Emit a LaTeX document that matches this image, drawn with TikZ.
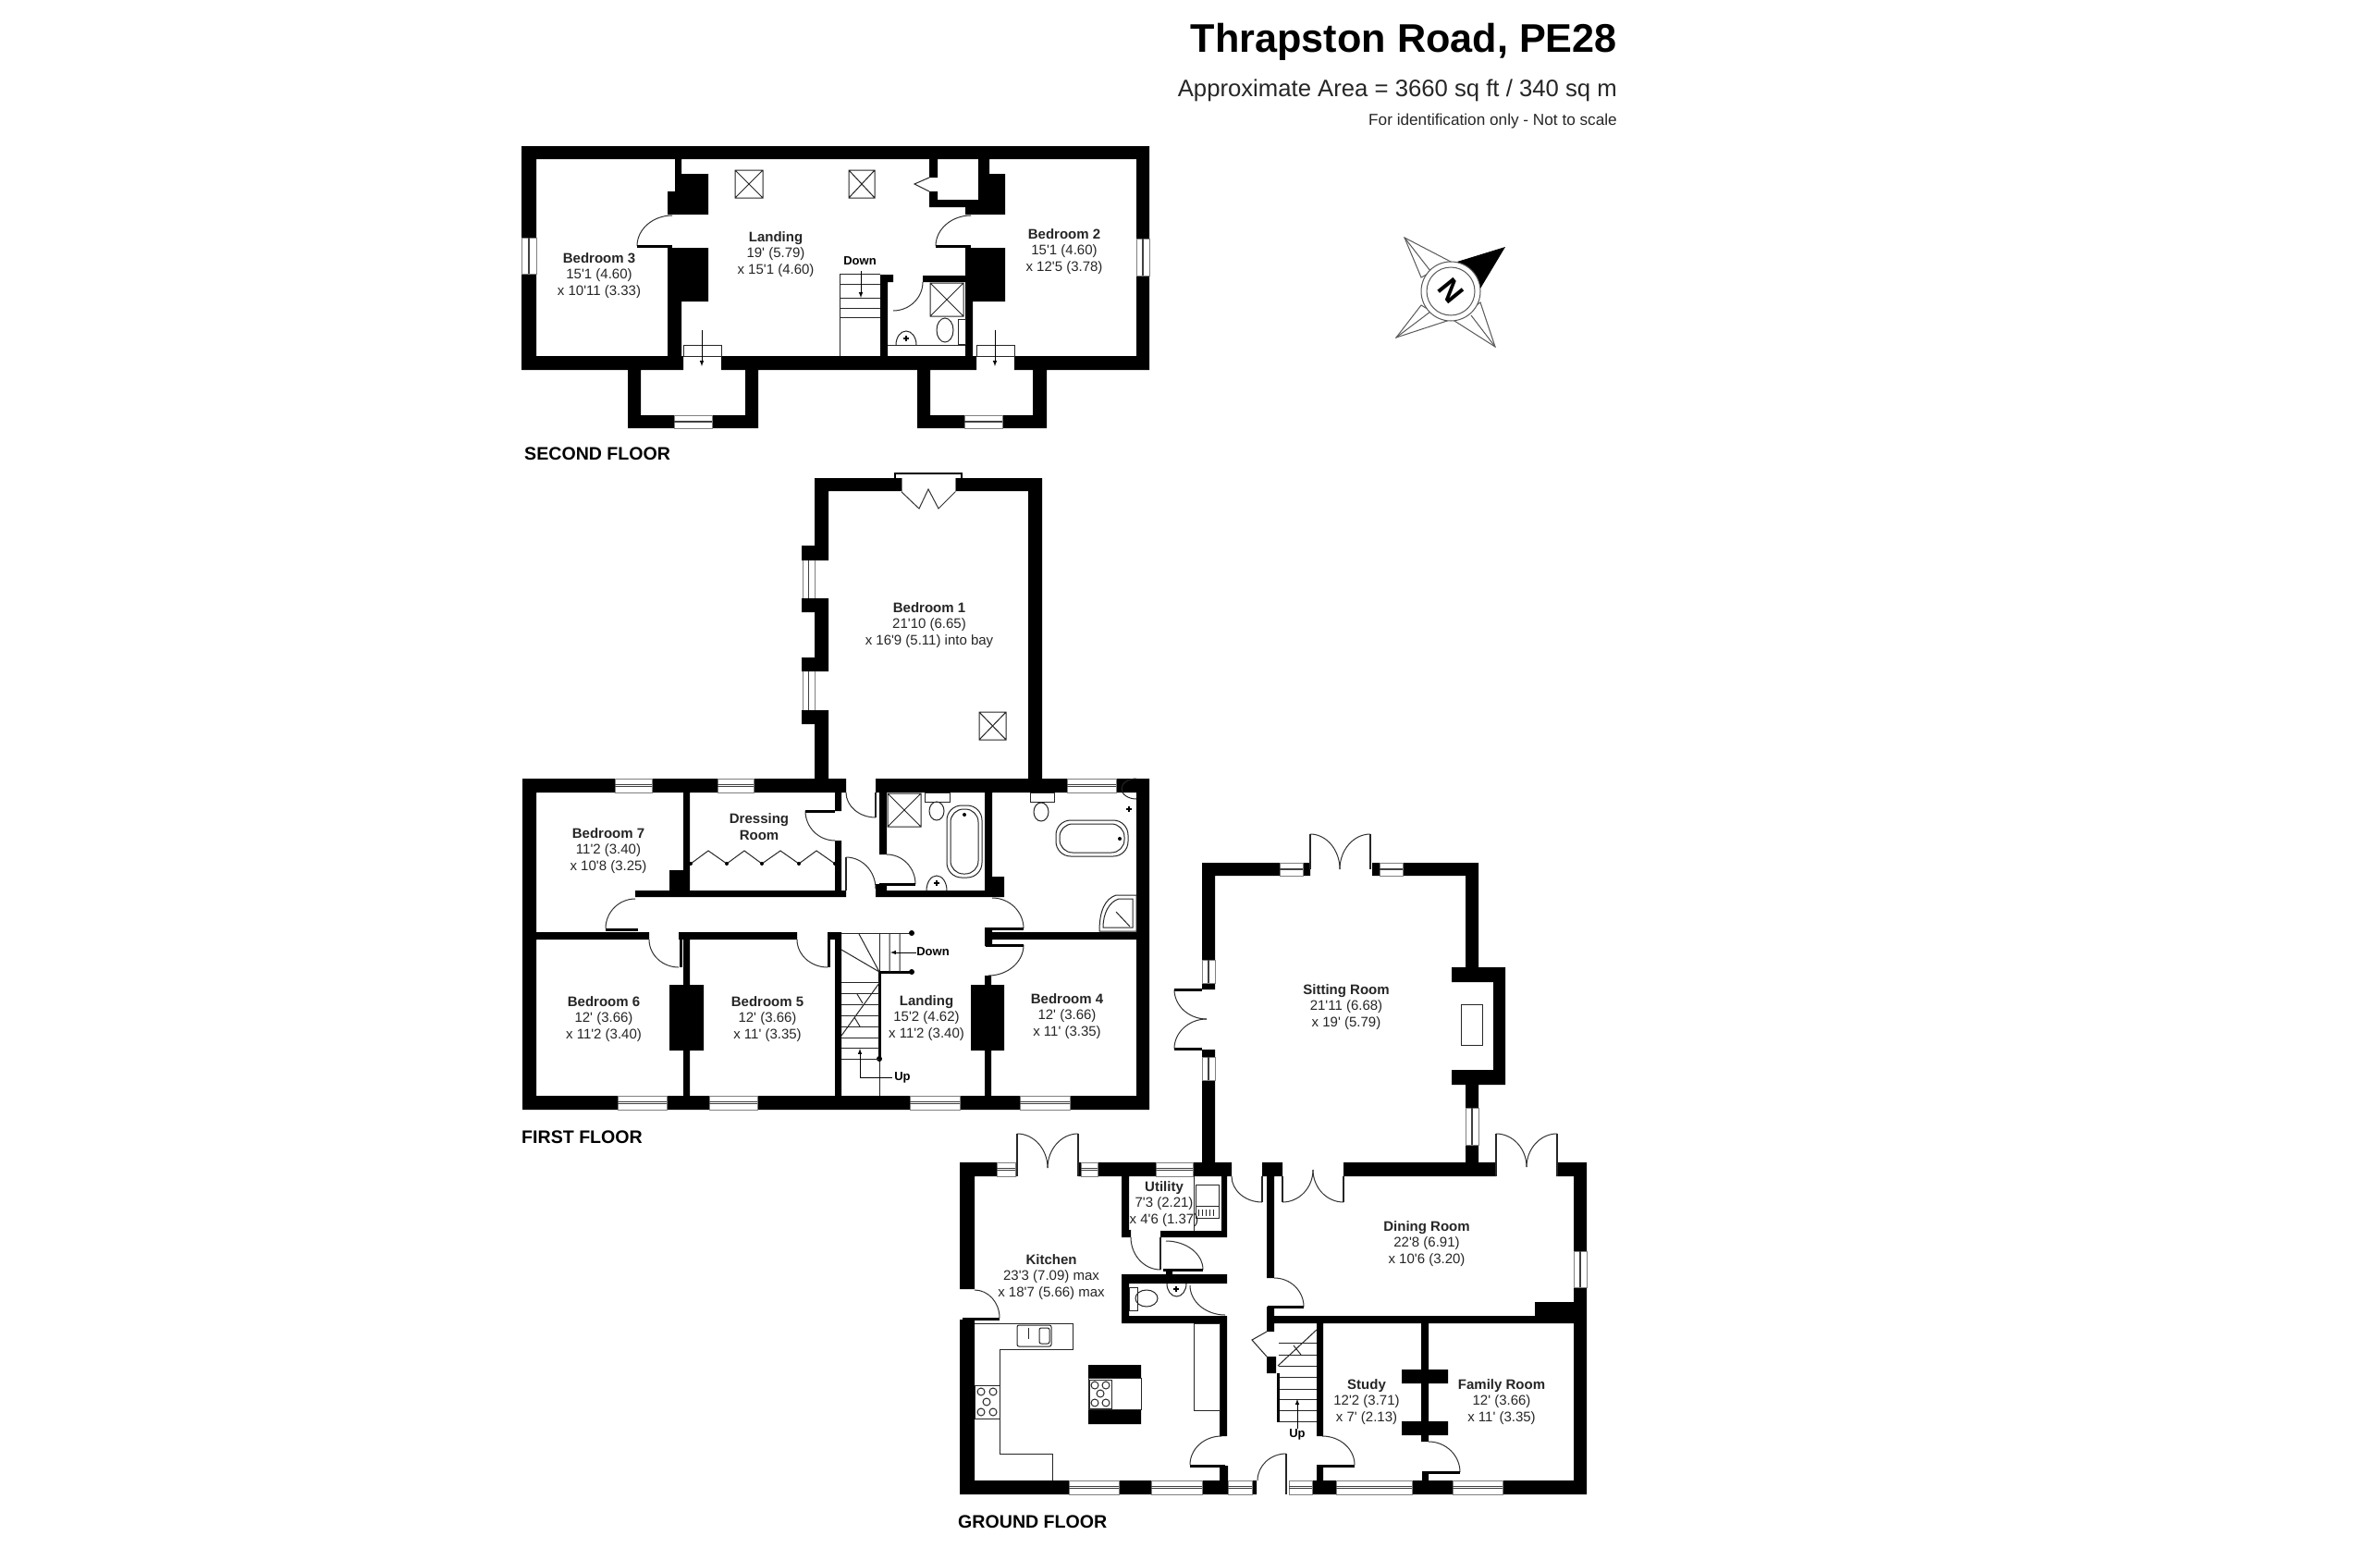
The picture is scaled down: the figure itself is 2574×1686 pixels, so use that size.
\documentclass[tikz,border=0pt]{standalone}
\usepackage{fontspec}
\usepackage{xcolor}
\usetikzlibrary{calc}
\newfontfamily\planfont{Liberation Sans}
\tikzset{
	wallfill/.style={fill=black},
	thinline/.style={draw=black!85,line width=1pt},
	winline/.style={draw=black!50,line width=1pt},
	winmid/.style={draw=black!75,line width=1pt},
	doorline/.style={draw=black!80,line width=1pt},
	leafline/.style={draw=black,line width=3pt},
	railline/.style={draw=black,line width=3pt},
	starline/.style={draw=black!65,line width=1pt},
	steparrow/.style={draw=black,line width=1pt,-{latex}},
	room/.style={align=center,inner sep=0pt,text=black!85,font=\planfont\fontsize{15}{17.5}\selectfont},
	smalllabel/.style={inner sep=0pt,font=\planfont\bfseries\fontsize{13}{15}\selectfont},
	floorname/.style={inner sep=0pt,anchor=west,font=\planfont\bfseries\fontsize{19.6}{24}\selectfont},
	titletext/.style={inner sep=0pt,anchor=east}
}
\newcommand{\winh}[4]{\draw[winline] (#1,#2) rectangle (#3,#4);
	\draw[winmid] ($(#1,#2)!.45!(#1,#4)$) -- ($(#3,#2)!.45!(#3,#4)$);
	\draw[winmid] ($(#1,#2)!.55!(#1,#4)$) -- ($(#3,#2)!.55!(#3,#4)$);}
\newcommand{\winv}[4]{\draw[winline] (#1,#2) rectangle (#3,#4);
	\draw[winmid] ($(#1,#2)!.45!(#3,#2)$) -- ($(#1,#4)!.45!(#3,#4)$);
	\draw[winmid] ($(#1,#2)!.55!(#3,#2)$) -- ($(#1,#4)!.55!(#3,#4)$);}
\newcommand{\doorhv}[4]{\draw[doorline] (#1,#2) .. controls ($(#1,#2)!.55!(#3,#2)$) and ($(#3,#4)!.55!(#3,#2)$) .. (#3,#4);}
\newcommand{\doorvh}[4]{\draw[doorline] (#1,#2) .. controls ($(#1,#2)!.55!(#1,#4)$) and ($(#3,#4)!.55!(#1,#4)$) .. (#3,#4);}
\newcommand{\skylight}[4]{\draw[thinline] (#1,#2) rectangle (#3,#4) (#1,#2) -- (#3,#4) (#1,#4) -- (#3,#2);}
\newcommand{\tapmark}[2]{\draw[draw=black,line width=1.5pt] (#1-3,#2) -- (#1+3,#2) (#1,#2-3) -- (#1,#2+3);}
\begin{document}
\begin{tikzpicture}[x=1pt,y=-1pt]
	\useasboundingbox (0,0) rectangle (2574,1686);
	\fill[white] (0,0) rectangle (2574,1686);

	\node[titletext,font=\planfont\bfseries\fontsize{43.2}{50}\selectfont] (title) at (1749,45) {Thrapston Road, PE28};
	\node[titletext,text=black!85,font=\planfont\fontsize{25.7}{30}\selectfont] (area) at (1749,98) {Approximate Area = 3660 sq ft / 340 sq m};
	\node[titletext,text=black!85,font=\planfont\fontsize{17.2}{20}\selectfont] (scale) at (1749,131) {For identification only - Not to scale};

	\fill[wallfill]
		(564,158) rectangle (1243,172)
		(564,172) rectangle (580,257) (564,296) rectangle (580,385)
		(1229,172) rectangle (1243,258) (1229,298) rectangle (1243,385)
		(564,385) rectangle (739,400) (780,385) rectangle (1056,400) (1097,385) rectangle (1243,400)
		(730,172) rectangle (737,188) (730,188) rectangle (766,207) (722,207) rectangle (766,232)
		(722,268) rectangle (766,326) (722,326) rectangle (737,385)
		(1058,172) rectangle (1070,188) (1058,188) rectangle (1087,232)
		(1005,172) rectangle (1014,192) (1005,207) rectangle (1014,224) (1005,216) rectangle (1058,224)
		(1044,224) rectangle (1087,232) (1044,268) rectangle (1087,326) (1044,326) rectangle (1052,385)
		(952,297) rectangle (966,305) (952,305) rectangle (960,385) (998,298) rectangle (1044,305)
		(679,400) rectangle (693,449) (806,400) rectangle (820,449)
		(679,449) rectangle (729,463) (770,449) rectangle (820,463)
		(992,400) rectangle (1006,449) (1117,400) rectangle (1132,449)
		(992,449) rectangle (1043,463) (1084,449) rectangle (1132,463);
	\winv{564}{257}{580}{296}
	\winv{1229}{258}{1243}{298}
	\winh{729}{449}{770}{463}
	\winh{1043}{449}{1084}{463}
	\skylight{795}{184}{825}{214}
	\skylight{918}{184}{946}{214}
	\skylight{1006}{306}{1042}{342}
	\draw[thinline] (1005,192) -- (989,199) -- (1005,207);
	\doorhv{727}{233}{689}{266}
	\doorhv{1050}{233}{1012}{266}
	\doorvh{998}{305}{966}{336}
	\draw[leafline] (689,266) -- (727,266);
	\draw[leafline] (1012,266) -- (1050,266);
	\draw[thinline] (908,296) -- (952,296) (908,296) -- (908,385);
	\draw[thinline] (908,307) -- (952,307) (908,322) -- (952,322) (908,333) -- (952,333) (908,343) -- (952,343);
	\draw[thinline] (960,373) -- (1044,373);
	\draw[thinline] (1022,357) ellipse (9 and 13);
	\draw[thinline] (1036,345) rectangle (1044,372);
	\draw[thinline] (969,373) arc (180:360:11 and 15);
	\tapmark{980}{366}
	\draw[thinline] (739,373) rectangle (780,385) (1056,373) rectangle (1097,385);
	\draw[steparrow] (931,293) -- (931,322);
	\draw[steparrow] (759,357) -- (759,396);
	\draw[steparrow] (1076,357) -- (1076,396);
	\node[smalllabel] (seconddown) at (930,282) {Down};
	\node[room] (bedroomthree) at (648,298) {\textbf{Bedroom 3}\\15'1 (4.60)\\x 10'11 (3.33)};
	\node[room] (landingtwo) at (839,275) {\textbf{Landing}\\19' (5.79)\\x 15'1 (4.60)};
	\node[room] (bedroomtwo) at (1151,272) {\textbf{Bedroom 2}\\15'1 (4.60)\\x 12'5 (3.78)};
	\node[floorname] (secondfloor) at (567,491) {SECOND FLOOR};

	\draw[starline,fill=white] (1519,257) -- (1537,300) -- (1569,283) -- cycle;
	\draw[starline,fill=white] (1510,365) -- (1537,330) -- (1565,347) -- cycle;
	\draw[starline,fill=white] (1617,375) -- (1573,347) -- (1601,327) -- cycle;
	\draw[starline] (1519,257) -- (1547,293) (1510,365) -- (1547,337) (1617,375) -- (1591,341);
	\fill[black] (1628,267) -- (1576,283) -- (1601,312) -- cycle;
	\draw[starline,fill=white] (1569,315) circle (32);
	\draw[starline] (1569,315) circle (26);
	\node[inner sep=0pt,rotate=-51,font=\planfont\bfseries\fontsize{32}{32}\selectfont] (compassn) at (1569,315) {N};

	\fill[wallfill]
		(881,517) rectangle (975,531) (1033,517) rectangle (1127,531)
		(881,531) rectangle (896,606) (881,647) rectangle (896,726) (881,768) rectangle (896,842)
		(1112,531) rectangle (1127,842)
		(867,590) rectangle (896,606) (867,647) rectangle (896,662)
		(867,711) rectangle (896,726) (867,768) rectangle (896,783)
		(565,842) rectangle (665,857) (705,842) rectangle (776,857) (815,842) rectangle (915,857)
		(947,842) rectangle (1154,857) (1207,842) rectangle (1243,857)
		(565,857) rectangle (580,1185) (1229,857) rectangle (1243,1185)
		(565,1185) rectangle (668,1200) (721,1185) rectangle (767,1200) (819,1185) rectangle (984,1200)
		(1038,1185) rectangle (1103,1200) (1157,1185) rectangle (1243,1200)
		(739,857) rectangle (746,970) (724,941) rectangle (746,970) (687,963) rectangle (915,970)
		(903,857) rectangle (910,877) (903,909) rectangle (910,964)
		(951,857) rectangle (959,924) (947,956) rectangle (959,970) (947,963) rectangle (1086,970)
		(1065,857) rectangle (1073,970) (1065,948) rectangle (1086,970)
		(580,1008) rectangle (702,1016) (734,1008) rectangle (862,1016) (895,1008) rectangle (910,1016)
		(1066,1008) rectangle (1229,1016) (1065,1003) rectangle (1073,1023)
		(739,1016) rectangle (746,1185) (724,1065) rectangle (761,1136)
		(903,1016) rectangle (910,1185)
		(1065,1055) rectangle (1072,1185) (1050,1065) rectangle (1086,1136);
	\winh{665}{842}{705}{857}
	\winh{776}{842}{815}{857}
	\winh{1154}{842}{1207}{857}
	\draw[winline] (868,606) -- (868,647) (881,606) -- (881,647) (868,726) -- (868,768) (881,726) -- (881,768);
	\draw[winmid] (874,606) -- (874,647) (874,726) -- (874,768);
	\winh{668}{1185}{721}{1200}
	\winh{767}{1185}{819}{1200}
	\winh{984}{1185}{1038}{1200}
	\winh{1103}{1185}{1157}{1200}
	\draw[draw=black,line width=2pt] (968,517) -- (968,512) -- (1040,512) -- (1040,517);
	\draw[winline] (975,517) -- (975,532) (1033,517) -- (1033,532);
	\draw[doorline] (975,532) -- (994,550) -- (1004,529) -- (1015,550) -- (1033,532);
	\skylight{1059}{770}{1088}{800}
	\skylight{960}{858}{996}{894}
	\doorvh{915}{857}{947}{884}
	\draw[thinline,line width=1.5pt] (947,857) -- (947,884) (915,927) -- (915,963);
	\doorhv{903}{909}{871}{877}
	\draw[leafline] (871,877) -- (903,877);
	\doorhv{959}{924}{990}{956}
	\draw[leafline] (951,956) -- (990,956);
	\doorhv{915}{927}{947}{961}
	\doorhv{687}{972}{655}{1004}
	\draw[leafline] (655,1005) -- (690,1005);
	\doorvh{702}{1016}{734}{1046}
	\draw[leafline] (736,1016) -- (736,1046);
	\doorvh{862}{1016}{895}{1046}
	\draw[leafline] (896,1016) -- (896,1046);
	\doorhv{1073}{971}{1107}{1004}
	\draw[leafline] (1066,1004) -- (1107,1004);
	\doorvh{1107}{1022}{1069}{1055}
	\draw[leafline] (1066,1022) -- (1107,1022);
	\draw[thinline] (747,934) -- (766,920) -- (786,934) -- (805,920) -- (824,934) -- (844,920) -- (864,934) -- (883,920) -- (903,934);
	\fill[black] (747,934) circle (2) (786,934) circle (2) (824,934) circle (2) (864,934) circle (2) (903,934) circle (2);
	\draw[thinline] (1000,857) rectangle (1027,867) (1114,857) rectangle (1140,867);
	\draw[thinline] (1013,877) ellipse (8 and 10);
	\draw[thinline] (1126,878) ellipse (8 and 10);
	\draw[thinline,rounded corners=16pt] (1024,871) rectangle (1062,949);
	\draw[thinline,rounded corners=14pt] (1028,875) rectangle (1058,945);
	\fill[black] (1043,881) circle (2);
	\draw[thinline,rounded corners=16pt] (1142,887) rectangle (1220,926);
	\draw[thinline,rounded corners=14pt] (1146,891) rectangle (1216,922);
	\fill[black] (1211,907) circle (2);
	\draw[thinline] (1002,963) arc (180:360:11 and 16);
	\tapmark{1013}{955}
	\draw[thinline] (1229,864) arc (90:270:16 and 11);
	\tapmark{1221}{875}
	\draw[thinline] (1229,968) -- (1207,968) .. controls (1195,972) and (1189,985) .. (1189,1007) -- (1229,1007) -- cycle;
	\draw[thinline] (1225,972) -- (1210,972) .. controls (1200,975) and (1193,987) .. (1193,1003) -- (1225,1003) -- cycle;
	\draw[thinline] (1207,986) -- (1222,1002);
	\draw[thinline] (910,1009) -- (986,1009) (951,1009) -- (951,1185);
	\draw[railline] (951,1051) -- (986,1051) (951,1051) -- (951,1145);
	\fill[black] (986,1009) circle (3) (986,1051) circle (3) (951,1145) circle (3);
	\draw[thinline] (962,1009) -- (962,1051) (973,1009) -- (973,1051) (951,1051) -- (910,1027) (951,1051) -- (929,1010);
	\draw[thinline] (910,1062) -- (951,1062) (910,1074) -- (951,1074) (910,1086) -- (951,1086) (910,1098) -- (951,1098);
	\draw[thinline] (910,1110) -- (951,1110) (910,1122) -- (951,1122) (910,1133) -- (951,1133) (910,1145) -- (951,1145);
	\draw[thinline] (951,1063) -- (910,1120) (927,1075) -- (933,1085) (924,1100) -- (930,1110);
	\draw[steparrow] (991,1030) -- (963,1030);
	\draw[steparrow] (965,1165) -- (930,1165) -- (930,1134);
	\node[smalllabel] (firstdown) at (1009,1029) {Down};
	\node[smalllabel] (firstup) at (976,1165) {Up};
	\node[room] (bedroomone) at (1005,676) {\textbf{Bedroom 1}\\21'10 (6.65)\\x 16'9 (5.11) into bay};
	\node[room] (bedroomseven) at (658,920) {\textbf{Bedroom 7}\\11'2 (3.40)\\x 10'8 (3.25)};
	\node[room,font=\planfont\bfseries\fontsize{15}{17.5}\selectfont] (dressing) at (821,894) {Dressing\\Room};
	\node[room] (bedroomsix) at (653,1102) {\textbf{Bedroom 6}\\12' (3.66)\\x 11'2 (3.40)};
	\node[room] (bedroomfive) at (830,1102) {\textbf{Bedroom 5}\\12' (3.66)\\x 11' (3.35)};
	\node[room] (landingone) at (1002,1101) {\textbf{Landing}\\15'2 (4.62)\\x 11'2 (3.40)};
	\node[room] (bedroomfour) at (1154,1099) {\textbf{Bedroom 4}\\12' (3.66)\\x 11' (3.35)};
	\node[floorname] (firstfloor) at (564,1230) {FIRST FLOOR};

	\fill[wallfill]
		(1300,933) rectangle (1384,947) (1409,933) rectangle (1417,947)
		(1484,933) rectangle (1492,947) (1517,933) rectangle (1599,947)
		(1300,947) rectangle (1314,1038) (1300,1063) rectangle (1314,1070)
		(1300,1135) rectangle (1314,1143) (1300,1168) rectangle (1314,1258)
		(1585,947) rectangle (1599,1046) (1570,1046) rectangle (1628,1062)
		(1615,1062) rectangle (1628,1157) (1570,1157) rectangle (1628,1173)
		(1585,1173) rectangle (1599,1198) (1585,1238) rectangle (1599,1258);
	\winh{1384}{933}{1409}{947}
	\winh{1492}{933}{1517}{947}
	\winv{1300}{1038}{1314}{1063}
	\winv{1300}{1143}{1314}{1168}
	\winv{1585}{1198}{1599}{1238}
	\draw[thinline] (1580,1086) rectangle (1603,1130);
	\doorhv{1417}{902}{1449}{940}
	\doorhv{1482}{902}{1449}{940}
	\draw[thinline,line width=2pt] (1417,902) -- (1417,940) (1482,902) -- (1482,940);
	\doorvh{1270}{1070}{1305}{1102}
	\doorvh{1270}{1134}{1305}{1102}
	\draw[leafline] (1270,1070) -- (1300,1070);
	\draw[leafline] (1270,1134) -- (1300,1134);
	\node[room] (sittingroom) at (1456,1089) {\textbf{Sitting Room}\\21'11 (6.68)\\x 19' (5.79)};

	\fill[wallfill]
		(1038,1257) rectangle (1078,1272) (1098,1257) rectangle (1100,1272)
		(1166,1257) rectangle (1169,1272) (1187,1257) rectangle (1250,1272)
		(1290,1257) rectangle (1332,1272) (1365,1257) rectangle (1387,1272)
		(1453,1257) rectangle (1618,1272) (1683,1257) rectangle (1716,1272)
		(1038,1272) rectangle (1054,1394) (1038,1427) rectangle (1054,1601)
		(1702,1272) rectangle (1716,1353) (1702,1392) rectangle (1716,1601)
		(1038,1601) rectangle (1156,1616) (1210,1601) rectangle (1245,1616)
		(1300,1601) rectangle (1328,1616) (1354,1601) rectangle (1359,1616)
		(1419,1601) rectangle (1445,1616) (1527,1601) rectangle (1571,1616) (1625,1601) rectangle (1716,1616)
		(1213,1272) rectangle (1221,1338) (1213,1330) rectangle (1223,1338)
		(1255,1331) rectangle (1327,1338) (1321,1272) rectangle (1327,1338)
		(1213,1378) rectangle (1327,1388) (1261,1375) rectangle (1268,1378)
		(1213,1388) rectangle (1221,1431) (1213,1423) rectangle (1327,1431)
		(1319,1431) rectangle (1327,1553) (1319,1585) rectangle (1328,1601)
		(1370,1272) rectangle (1378,1382) (1370,1413) rectangle (1378,1440)
		(1378,1423) rectangle (1702,1431) (1660,1408) rectangle (1702,1423)
		(1370,1467) rectangle (1380,1485)
		(1424,1431) rectangle (1431,1553) (1424,1585) rectangle (1431,1601)
		(1537,1431) rectangle (1545,1559) (1516,1481) rectangle (1566,1496) (1516,1537) rectangle (1566,1552)
		(1538,1592) rectangle (1545,1601)
		(1177,1476) rectangle (1234,1490) (1177,1524) rectangle (1234,1540);
	\winh{1078}{1257}{1098}{1272}
	\winh{1169}{1257}{1187}{1272}
	\winh{1250}{1257}{1290}{1272}
	\winv{1702}{1353}{1716}{1392}
	\winh{1156}{1601}{1210}{1616}
	\winh{1245}{1601}{1300}{1616}
	\winh{1328}{1601}{1354}{1616}
	\winh{1394}{1601}{1419}{1616}
	\winh{1445}{1601}{1527}{1616}
	\winh{1571}{1601}{1625}{1616}
	\doorhv{1100}{1226}{1133}{1263}
	\doorhv{1166}{1226}{1133}{1263}
	\draw[thinline,line width=2pt] (1100,1226) -- (1100,1272) (1166,1226) -- (1166,1272);
	\doorhv{1618}{1226}{1651}{1262}
	\doorhv{1684}{1226}{1651}{1262}
	\draw[thinline,line width=2pt] (1618,1226) -- (1618,1272) (1684,1226) -- (1684,1272);
	\doorhv{1387}{1300}{1420}{1265}
	\doorhv{1453}{1300}{1420}{1265}
	\draw[thinline,line width=2pt] (1387,1272) -- (1387,1300) (1453,1272) -- (1453,1300);
	\doorvh{1332}{1272}{1365}{1300}
	\draw[thinline,line width=1.5pt] (1365,1272) -- (1365,1300);
	\doorhv{1054}{1395}{1081}{1425}
	\draw[leafline] (1041,1426) -- (1081,1426);
	\doorvh{1223}{1338}{1255}{1373}
	\draw[thinline,line width=1.5pt] (1255,1338) -- (1255,1373);
	\doorhv{1261}{1342}{1301}{1373}
	\draw[leafline] (1258,1373) -- (1301,1373);
	\doorvh{1287}{1390}{1325}{1422}
	\doorhv{1321}{1553}{1287}{1584}
	\draw[leafline] (1287,1585) -- (1325,1585);
	\doorhv{1391}{1572}{1360}{1601}
	\draw[thinline,line width=1.5pt] (1391,1572) -- (1391,1616);
	\doorhv{1430}{1553}{1465}{1584}
	\draw[leafline] (1424,1585) -- (1465,1585);
	\doorhv{1545}{1559}{1579}{1592}
	\draw[leafline] (1538,1592) -- (1579,1592);
	\doorhv{1378}{1382}{1410}{1413}
	\draw[leafline] (1371,1413) -- (1410,1413);
	\draw[thinline] (1370,1440) -- (1354,1449) -- (1370,1467);
	\draw[thinline] (1291,1272) -- (1291,1331);
	\draw[thinline] (1293,1281) rectangle (1318,1317) (1293,1304) -- (1318,1304);
	\draw[thinline] (1296,1308) -- (1296,1315) (1300,1308) -- (1300,1315) (1304,1308) -- (1304,1315) (1308,1308) -- (1308,1315) (1312,1308) -- (1312,1315);
	\draw[thinline] (1054,1431) -- (1160,1431) -- (1160,1459) -- (1081,1459) -- (1081,1572) -- (1138,1572) -- (1138,1601);
	\draw[thinline,rounded corners=2pt] (1100,1433) rectangle (1137,1456) (1124,1436) rectangle (1135,1453);
	\draw[thinline] (1112,1436) -- (1112,1448);
	\draw[thinline] (1054,1498) rectangle (1081,1534);
	\draw[thinline] (1061,1505) circle (4) (1074,1505) circle (4) (1067,1516) circle (4) (1061,1527) circle (4) (1074,1527) circle (4);
	\draw[thinline] (1177,1490) rectangle (1234,1524);
	\draw[thinline] (1178,1492) rectangle (1202,1523);
	\draw[thinline] (1184,1498) circle (4) (1196,1498) circle (4) (1190,1507) circle (4) (1184,1517) circle (4) (1196,1517) circle (4);
	\draw[thinline] (1291,1431) rectangle (1319,1525);
	\draw[thinline] (1221,1392) rectangle (1230,1417);
	\draw[thinline] (1240,1404) ellipse (12 and 9);
	\draw[thinline] (1262,1388) arc (180:0:10.5 and 14);
	\tapmark{1272}{1394}
	\draw[thinline] (1383,1452) -- (1424,1452) (1383,1465) -- (1424,1465) (1383,1477) -- (1424,1477) (1383,1489) -- (1424,1489);
	\draw[thinline] (1383,1502) -- (1424,1502) (1383,1513) -- (1424,1513) (1383,1525) -- (1424,1525) (1383,1537) -- (1424,1537);
	\draw[thinline] (1424,1438) -- (1382,1477) (1399,1455) -- (1407,1465);
	\draw[railline] (1382,1485) -- (1382,1538);
	\draw[steparrow] (1403,1545) -- (1403,1513);
	\node[smalllabel] (groundup) at (1403,1551) {Up};
	\node[room] (utility) at (1259,1302) {\textbf{Utility}\\7'3 (2.21)\\x 4'6 (1.37)};
	\node[room] (kitchen) at (1137,1381) {\textbf{Kitchen}\\23'3 (7.09) max\\x 18'7 (5.66) max};
	\node[room] (diningroom) at (1543,1345) {\textbf{Dining Room}\\22'8 (6.91)\\x 10'6 (3.20)};
	\node[room] (study) at (1478,1516) {\textbf{Study}\\12'2 (3.71)\\x 7' (2.13)};
	\node[room] (familyroom) at (1624,1516) {\textbf{Family Room}\\12' (3.66)\\x 11' (3.35)};
	\node[floorname] (groundfloor) at (1036,1646) {GROUND FLOOR};
\end{tikzpicture}
\end{document}
